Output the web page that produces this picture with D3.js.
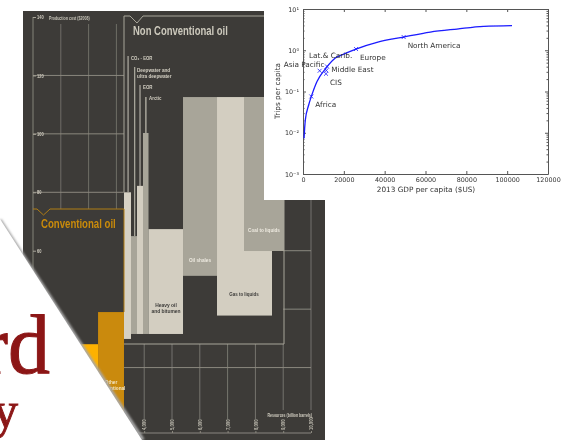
<!DOCTYPE html>
<html>
<head>
<meta charset="utf-8">
<script src="https://cdn.jsdelivr.net/npm/d3@7"></script>
<style>
    body { margin: 0; background: #fff; }
    svg { display: block; }
    .oil text { font-family: "Liberation Sans", sans-serif; font-weight: bold; }
    .gdp text { font-family: "DejaVu Sans", sans-serif; }
</style>
</head>
<body>
<svg id="slide" width="562" height="440"></svg>
<script>
// Left picture: oil supply cost curve
var barNames = ['MENA', 'Other conventional', 'CO2-EOR', 'Deepwater', 'EOR', 'Arctic', 'Heavy oil', 'Oil shales', 'Gas to liquids', 'Coal to liquids'];
var barStart = [1100, 2340, 3273, 3525, 3741, 3957, 4155, 5396, 6619, 7590];
var barEnd = [2340, 3273, 3525, 3741, 3957, 4155, 5396, 6619, 8597, 9029];
var barLow = [0, 0, 29.8, 31.5, 31.5, 31.5, 31.5, 51.4, 37.8, 59.9];
var barHigh = [28, 39, 80, 65, 82.2, 100.3, 67.4, 112.6, 112.6, 112.6];
var barColors = ['#fdb100', '#ca8a08', '#d6d1c4', '#a8a599', '#d3cec1', '#a8a599', '#d3cec1', '#a8a599', '#d3cec1', '#a8a599'];

var costTicks = [140, 120, 100, 80, 60];
var resourceTicks = [4000, 5000, 6000, 7000, 8000, 9000, 10000];

// Right picture: trips against GDP
var curveGdp = [490, 1140, 2775, 4080, 6860, 11265, 15840, 19920, 25960, 36245, 49300, 62370, 75430, 88490, 102370];
var curveTrips = [0.0073, 0.0205, 0.047, 0.0757, 0.175, 0.369, 0.645, 0.807, 1.07, 1.55, 2.09, 2.76, 3.27, 3.79, 3.94];

var regionNames = ['Africa', 'Asia Pacific', 'Lat.& Carib.', 'Middle East', 'CIS', 'Europe', 'North America'];
var regionGdp = [4080, 8160, 11750, 11430, 11265, 25960, 49300];
var regionTrips = [0.0757, 0.318, 0.405, 0.324, 0.269, 1.07, 2.09];

var gdpTicks = [0, 20000, 40000, 60000, 80000, 100000, 120000];
var tripTicks = [0.001, 0.01, 0.1, 1, 10];

var svg = d3.select('#slide');

var defs = svg.append('defs');
defs.append('filter').attr('id', 'soft').append('feGaussianBlur').attr('stdDeviation', 0.45);
defs.append('filter').attr('id', 'softer').append('feGaussianBlur').attr('stdDeviation', 0.6);
defs.append('filter').attr('id', 'edge').append('feGaussianBlur').attr('stdDeviation', 0.9);

// ---- Oil panel ----
var oil = svg.append('g').classed('oil', true).attr('filter', 'url(#soft)');
oil.append('rect').attr('x', 23).attr('y', 11).attr('width', 302).attr('height', 429).attr('fill', '#3c3b39');

var xRes = d3.scaleLinear().domain([0, 10000]).range([33, 311]);
var yCost = d3.scaleLinear().domain([0, 140]).range([426, 17]);

// Grid: vertical lines
var gridLine = function(x1, y1, x2, y2, color, width) {
    oil.append('line').attr('x1', x1).attr('y1', y1).attr('x2', x2).attr('y2', y2)
       .attr('stroke', color).attr('stroke-width', width || 1);
};
gridLine(xRes(0), yCost(140), xRes(0), 440, '#85827a');
[1000, 2000, 3000].forEach((d) => gridLine(xRes(d), 24, xRes(d), 209, '#6f6d66'));
[4000, 5000, 6000, 7000, 8000].forEach((d) => gridLine(xRes(d), 344, xRes(d), 419, '#77756d'));
gridLine(xRes(9000), 344, xRes(9000), 410, '#77756d');
gridLine(xRes(10000), 24, xRes(10000), 410, '#77756d');

// Grid: horizontal lines
[120, 100, 80].forEach((d) => gridLine(xRes(0), yCost(d), xRes(3273), yCost(d), '#8b887e'));
[60, 40].forEach((d) => gridLine(xRes(9000), yCost(d), xRes(10000), yCost(d), '#8b887e'));
gridLine(xRes(3273), yCost(20), xRes(10000), yCost(20), '#8b887e');

// Leader lines of the narrow bars
var leaderX = [3420, 3660, 3850, 4060];
var leaderTop = [56, 67, 85, 97];
var leaderBottom = [192, 236, 186, 133];
var leaderColor = ['#c8c4b8', '#c8c4b8', '#c8c4b8', '#a8a599'];
leaderX.forEach((d, i) => gridLine(xRes(d), leaderTop[i], xRes(d), leaderBottom[i], leaderColor[i], i == 3 ? 1.5 : 1));

// The bars
oil.selectAll('rect.bar').data(barNames).enter().append('rect').classed('bar', true)
   .attr('x', (d, i) => xRes(barStart[i]))
   .attr('y', (d, i) => yCost(barHigh[i]))
   .attr('width', (d, i) => xRes(barEnd[i]) - xRes(barStart[i]))
   .attr('height', (d, i) => yCost(barLow[i]) - yCost(barHigh[i]))
   .attr('fill', (d, i) => barColors[i]);

// Brackets
var nonConvBox = d3.line()([[124, 192], [124, 16], [130, 16], [137, 23], [143, 16], [284, 16], [284, 344], [124, 344]]);
oil.append('path').attr('d', nonConvBox).attr('fill', 'none').attr('stroke', '#a8a599');
var convBox = d3.line()([[33, 209], [37, 209], [43.5, 215], [50, 209], [124, 209], [124, 312]]);
oil.append('path').attr('d', convBox).attr('fill', 'none').attr('stroke', '#b07c14');

// Cost axis
var costAxis = oil.append('g').attr('transform', 'translate(36, 0)')
    .call(d3.axisLeft(yCost).tickValues(costTicks).tickSize(3));
costAxis.select('.domain').remove();
costAxis.selectAll('line').attr('stroke', '#a8a599');
costAxis.selectAll('text').attr('fill', '#d3cec1').attr('font-size', 5).attr('text-anchor', 'start')
        .attr('x', 0).attr('transform', 'translate(1, 0) scale(0.8, 1)');

// Resource axis
var resAxis = oil.append('g').attr('transform', 'translate(0, 433)')
    .call(d3.axisBottom(xRes).tickValues(resourceTicks).tickSize(-2).tickFormat(d3.format(',')));
resAxis.select('.domain').attr('stroke', '#8b887e').attr('d', 'M' + xRes(0) + ',0H' + xRes(10000));
resAxis.selectAll('line').attr('stroke', '#8b887e');
resAxis.selectAll('.tick').select('text')
       .attr('fill', '#bdb9ad').attr('font-size', 5).attr('text-anchor', 'start')
       .attr('transform', 'rotate(-90) scale(0.85, 1)').attr('x', 3.5).attr('y', 0).attr('dy', '0.32em');

// Panel texts
var oilText = function(x, y, text, size, color, stretch, anchor) {
    return oil.append('text').attr('transform', 'translate(' + x + ', ' + y + ') scale(' + stretch + ', 1)')
              .attr('font-size', size).attr('fill', color).attr('text-anchor', anchor || 'start').text(text);
};
oilText(133, 35, 'Non Conventional oil', 13, '#cdc9bc', 0.73);
oilText(41, 228, 'Conventional oil', 12.5, '#c98a0a', 0.77);
oilText(49, 20, 'Production cost ($2008)', 5, '#c8c4b8', 0.72);
oilText(131, 60, 'CO\u2082 - EOR', 5.5, '#d3cec1', 0.78);
oilText(137, 72, 'Deepwater and', 5.5, '#d3cec1', 0.85);
oilText(137, 77.5, 'ultra deepwater', 5.5, '#d3cec1', 0.85);
oilText(143, 89, 'EOR', 5.5, '#d3cec1', 0.8);
oilText(149, 100, 'Arctic', 5.5, '#d3cec1', 0.8);
oilText(166, 307, 'Heavy oil', 6, '#3c3b39', 0.82, 'middle');
oilText(166, 312.5, 'and bitumen', 6, '#3c3b39', 0.82, 'middle');
oilText(200, 262, 'Oil shales', 6, '#eeeae0', 0.78, 'middle');
oilText(264, 232, 'Coal to liquids', 6, '#eeeae0', 0.77, 'middle');
oilText(244, 296, 'Gas to liquids', 6, '#3c3b39', 0.75, 'middle');
oilText(111, 384, 'Other', 5.5, '#f3e6c8', 0.85, 'middle');
oilText(111, 390, 'conventional', 5.5, '#f3e6c8', 0.85, 'middle');
oilText(312, 417, 'Resources (billion barrels)', 5.2, '#d3cec1', 0.68, 'end');

// ---- Trips plot ----
var gdp = svg.append('g').classed('gdp', true);
gdp.append('rect').attr('x', 264).attr('y', 0).attr('width', 298).attr('height', 200).attr('fill', '#fff');
var plot = gdp.append('g').attr('filter', 'url(#softer)');

var xGdp = d3.scaleLinear().domain([0, 120000]).range([303, 548]);
var yTrips = d3.scaleLog().domain([0.001, 10]).range([174, 9]);

var minorTicks = [];
tripTicks.slice(0, -1).forEach((d) => [2, 3, 4, 5, 6, 7, 8, 9].forEach((m) => minorTicks.push(d * m)));

var superscripts = { '-3': '\u207b\u00b3', '-2': '\u207b\u00b2', '-1': '\u207b\u00b9', '0': '\u2070', '1': '\u00b9' };
var styleAxis = function(axis) {
    axis.select('.domain').attr('stroke', '#555');
    axis.selectAll('line').attr('stroke', '#555');
    axis.selectAll('text').attr('fill', '#333').attr('font-size', 6.4);
};

var xAxis = plot.append('g').attr('transform', 'translate(0, 174)')
    .call(d3.axisBottom(xGdp).tickValues(gdpTicks).tickSize(-3).tickSizeOuter(0).tickPadding(3).tickFormat(d3.format('d')));
styleAxis(xAxis);
var xAxisTop = plot.append('g').attr('transform', 'translate(0, 9)')
    .call(d3.axisTop(xGdp).tickValues(gdpTicks).tickSize(-3).tickSizeOuter(0).tickFormat(''));
styleAxis(xAxisTop);
var yAxis = plot.append('g').attr('transform', 'translate(303, 0)')
    .call(d3.axisLeft(yTrips).tickValues(tripTicks).tickSize(-3).tickSizeOuter(0).tickPadding(4)
            .tickFormat((d) => '10' + superscripts[Math.round(Math.log10(d))]));
styleAxis(yAxis);
var yAxisRight = plot.append('g').attr('transform', 'translate(548, 0)')
    .call(d3.axisRight(yTrips).tickValues(tripTicks).tickSize(-3).tickSizeOuter(0).tickFormat(''));
styleAxis(yAxisRight);
plot.append('g').attr('transform', 'translate(303, 0)')
    .call(d3.axisLeft(yTrips).tickValues(minorTicks).tickSize(-1.5).tickFormat(''))
    .call(styleAxis).select('.domain').remove();
plot.append('g').attr('transform', 'translate(548, 0)')
    .call(d3.axisRight(yTrips).tickValues(minorTicks).tickSize(-1.5).tickFormat(''))
    .call(styleAxis).select('.domain').remove();

plot.append('text').attr('x', 426).attr('y', 192).attr('text-anchor', 'middle')
    .attr('font-size', 7.3).attr('fill', '#333').text('2013 GDP per capita ($US)');
plot.append('text').attr('transform', 'translate(280, 91) rotate(-90)').attr('text-anchor', 'middle')
    .attr('font-size', 7.3).attr('fill', '#333').text('Trips per capita');

// The curve and the regions
var curve = d3.line().x((d) => xGdp(d[0])).y((d) => yTrips(d[1])).curve(d3.curveMonotoneX);
plot.append('path').datum(d3.zip(curveGdp, curveTrips)).attr('d', curve)
    .attr('fill', 'none').attr('stroke', '#1a1aff').attr('stroke-width', 1.3);

var cross = d3.symbol().type(d3.symbolX).size(12);
plot.selectAll('path.region').data(regionNames).enter().append('path').classed('region', true)
    .attr('d', cross)
    .attr('transform', (d, i) => 'translate(' + xGdp(regionGdp[i]) + ', ' + yTrips(regionTrips[i]) + ')')
    .attr('fill', 'none').attr('stroke', '#1a1aff').attr('stroke-width', 0.8);

// Label offsets from each region's cross, same order as regionNames
var labelDx = [4, -36, -18, 5, 4, 4, 4];
var labelDy = [11, -4, -8, 2, 11, 11, 11];
plot.selectAll('text.region').data(regionNames).enter().append('text').classed('region', true)
    .attr('x', (d, i) => xGdp(regionGdp[i]) + labelDx[i])
    .attr('y', (d, i) => yTrips(regionTrips[i]) + labelDy[i])
    .attr('font-size', 7.3).attr('fill', '#333').text((d) => d);

// ---- Page corner ----
var corner = svg.append('g');
corner.append('line').attr('x1', 0).attr('y1', 220).attr('x2', 143).attr('y2', 440)
      .attr('stroke', '#a9a9a9').attr('stroke-width', 3.5).attr('filter', 'url(#edge)');
corner.append('path').attr('d', d3.line()([[0, 219], [142, 440], [0, 440]])).attr('fill', '#fff').attr('filter', 'url(#soft)');
var logo = corner.append('g').attr('filter', 'url(#soft)')
    .attr('font-family', '"Liberation Serif", serif').attr('fill', '#8c1515').attr('stroke', '#8c1515')
    .attr('stroke-width', 1).attr('text-anchor', 'end');
logo.append('text').attr('x', 50).attr('y', 373).attr('font-size', 84).text('rd');
logo.append('text').attr('x', 18).attr('y', 427).attr('font-size', 50).text('y');
</script>
</body>
</html>
